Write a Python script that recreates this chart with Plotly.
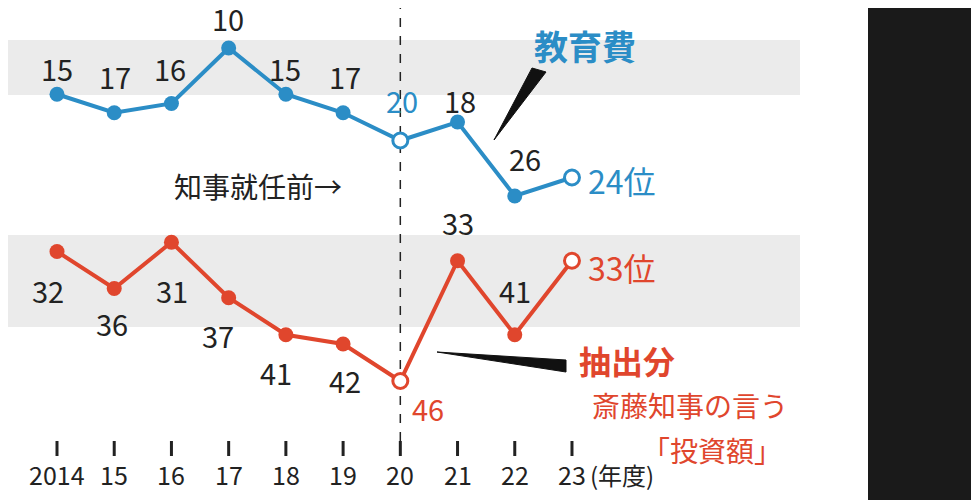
import plotly.graph_objects as go

years = [2014, 2015, 2016, 2017, 2018, 2019, 2020, 2021, 2022, 2023]
tick_labels = ["2014", "15", "16", "17", "18", "19", "20", "21", "22", "23"]
edu_rank = [15, 17, 16, 10, 15, 17, 20, 18, 26, 24]
inv_rank = [32, 36, 31, 37, 41, 42, 46, 33, 41, 33]

BLUE = "#2b8dc6"
RED = "#e0462d"
FONT = "Noto Sans CJK JP"

OFF = 8  # page margin
W, H = 979 - OFF, 500 - OFF
PXY = 57.22
PXR = 9.25
x0 = 2014 - (57 - OFF) / PXY
y0 = 10 - (48 - OFF) / PXR
def X(px): return x0 + (px - OFF) / PXY
def Y(py): return y0 + (py - OFF) / PXR

fig = go.Figure()

for vals, col in [(edu_rank, BLUE), (inv_rank, RED)]:
    fig.add_trace(go.Scatter(x=years, y=vals, mode="lines", line=dict(color=col, width=4),
                             hoverinfo="skip", showlegend=False))
    filled = [i for i in range(len(years)) if i not in (6, 9)]
    fig.add_trace(go.Scatter(x=[years[i] for i in filled], y=[vals[i] for i in filled], mode="markers",
                             marker=dict(color=col, size=15), showlegend=False))
    fig.add_trace(go.Scatter(x=[years[6], years[9]], y=[vals[6], vals[9]], mode="markers",
                             marker=dict(color="white", size=15, line=dict(color=col, width=3)),
                             showlegend=False))

shapes = []
shapes.append(dict(type="rect", xref="x", yref="y", x0=X(0), x1=X(800), y0=Y(40), y1=Y(95),
                   fillcolor="#ebebeb", line_width=0, layer="below"))
shapes.append(dict(type="rect", xref="x", yref="y", x0=X(0), x1=X(800), y0=Y(235), y1=Y(327),
                   fillcolor="#ebebeb", line_width=0, layer="below"))
shapes.append(dict(type="line", xref="x", yref="y", x0=2020, x1=2020, y0=Y(0), y1=Y(450),
                   line=dict(color="#222", width=1.5, dash="dash"), layer="below"))
for yr in years:
    shapes.append(dict(type="line", xref="x", yref="y", x0=yr, x1=yr, y0=Y(441), y1=Y(456),
                       line=dict(color="#222", width=3)))
shapes.append(dict(type="rect", xref="x", yref="y", x0=X(868), x1=X(990), y0=Y(-10), y1=Y(510),
                   fillcolor="#1a1a1a", line_width=0))
shapes.append(dict(type="path", xref="x", yref="y",
                   path=f"M {X(532)} {Y(68)} L {X(494)} {Y(140)} L {X(546)} {Y(72)} Z",
                   fillcolor="#111", line=dict(color="#111", width=1)))
shapes.append(dict(type="path", xref="x", yref="y",
                   path=f"M {X(437)} {Y(352)} L {X(566)} {Y(360)} L {X(566)} {Y(372)} Z",
                   fillcolor="#111", line=dict(color="#111", width=1)))

ann = []
def txt(px, py, s, size=29, color="#222", bold=False, xanchor="center"):
    ann.append(dict(xref="x", yref="y", x=X(px), y=Y(py), text=f"<b>{s}</b>" if bold else s,
                    showarrow=False, xanchor=xanchor, yanchor="middle",
                    font=dict(family=FONT, size=size, color=color)))

edu_lbl = [(57, 68), (115, 76), (170, 68), (228, 18), (285, 68), (345, 76), (402, 100), (460, 100), (525, 158)]
for i, (px, py) in enumerate(edu_lbl):
    txt(px, py, str(edu_rank[i]), color=BLUE if i == 6 else "#222")
txt(586, 180, f"{edu_rank[9]}位", size=32, color=BLUE, xanchor="left")

inv_lbl = [(48, 290), (112, 323), (172, 290), (218, 335), (276, 372), (345, 380), (428, 408), (458, 222), (515, 290)]
for i, (px, py) in enumerate(inv_lbl):
    txt(px, py, str(inv_rank[i]), color=RED if i == 6 else "#222")
txt(586, 267, f"{inv_rank[9]}位", size=32, color=RED, xanchor="left")

for yr, lab in zip(years, tick_labels):
    ann.append(dict(xref="x", yref="y", x=yr, y=Y(474), text=lab, showarrow=False,
                    font=dict(family=FONT, size=25, color="#222")))
txt(588, 474, "(年度)", size=24, xanchor="left")

txt(258, 186, "知事就任前→", size=28)
txt(585, 45, "教育費", size=34, color=BLUE, bold=True)
txt(627, 360, "抽出分", size=32, color=RED, bold=True)
txt(690, 405, "斎藤知事の言う", size=28, color=RED)
txt(712, 450, "「投資額」", size=28, color=RED)

def vtext(px, py_top, s, size, color, bold=False):
    t = "<br>".join(s)
    ann.append(dict(xref="x", yref="y", x=X(px), y=Y(py_top), text=f"<b>{t}</b>" if bold else t,
                    showarrow=False, xanchor="center", yanchor="top", align="center",
                    font=dict(family=FONT, size=size, color=color)))

vtext(830, 4, "※教育費順位は", 27, "#222")
vtext(790, 4, "文科省統計から算出", 27, "#222")
vtext(945, 2, "兵庫県立高校の1校", 32, "white", bold=True)
vtext(903, 2, "あたりの費用の全国順位", 32, "white", bold=True)

fig.update_layout(
    width=W, height=H, margin=dict(l=0, r=0, t=0, b=0),
    paper_bgcolor="white", plot_bgcolor="white",
    xaxis=dict(range=[X(OFF), X(979)], visible=False, fixedrange=True),
    yaxis=dict(range=[Y(500), Y(OFF)], visible=False, fixedrange=True),
    shapes=shapes, annotations=ann, showlegend=False,
)
fig.write_html("out.html")
